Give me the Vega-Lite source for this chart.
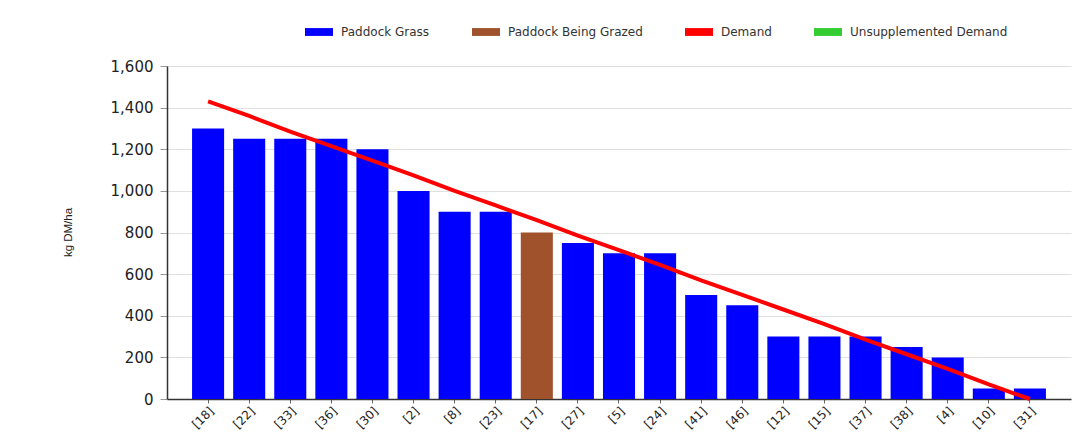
{
  "$schema": "https://vega.github.io/schema/vega-lite/v6.json",
  "width": 904,
  "height": 333,
  "autosize": {"type": "none"},
  "padding": {"left": 167, "top": 66, "right": 21, "bottom": 37},
  "background": "white",
  "config": {
    "font": "DejaVu Sans",
    "view": {"stroke": null},
    "axis": {"labelColor": "#222", "titleColor": "#222"}
  },
  "data": {
    "values": [
      {"paddock": "[18]", "grass": 1300, "type": "Paddock Grass", "demand": 1430},
      {"paddock": "[22]", "grass": 1250, "type": "Paddock Grass", "demand": 1360},
      {"paddock": "[33]", "grass": 1250, "type": "Paddock Grass", "demand": 1285},
      {"paddock": "[36]", "grass": 1250, "type": "Paddock Grass", "demand": 1215},
      {"paddock": "[30]", "grass": 1200, "type": "Paddock Grass", "demand": 1145},
      {"paddock": "[2]", "grass": 1000, "type": "Paddock Grass", "demand": 1075},
      {"paddock": "[8]", "grass": 900, "type": "Paddock Grass", "demand": 1000},
      {"paddock": "[23]", "grass": 900, "type": "Paddock Grass", "demand": 930},
      {"paddock": "[17]", "grass": 800, "type": "Paddock Being Grazed", "demand": 860},
      {"paddock": "[27]", "grass": 750, "type": "Paddock Grass", "demand": 785},
      {"paddock": "[5]", "grass": 700, "type": "Paddock Grass", "demand": 715},
      {"paddock": "[24]", "grass": 700, "type": "Paddock Grass", "demand": 645},
      {"paddock": "[41]", "grass": 500, "type": "Paddock Grass", "demand": 570},
      {"paddock": "[46]", "grass": 450, "type": "Paddock Grass", "demand": 500},
      {"paddock": "[12]", "grass": 300, "type": "Paddock Grass", "demand": 430},
      {"paddock": "[15]", "grass": 300, "type": "Paddock Grass", "demand": 360},
      {"paddock": "[37]", "grass": 300, "type": "Paddock Grass", "demand": 285},
      {"paddock": "[38]", "grass": 250, "type": "Paddock Grass", "demand": 215},
      {"paddock": "[4]", "grass": 200, "type": "Paddock Grass", "demand": 145},
      {"paddock": "[10]", "grass": 50, "type": "Paddock Grass", "demand": 70},
      {"paddock": "[31]", "grass": 50, "type": "Paddock Grass", "demand": 0}
    ]
  },
  "encoding": {
    "x": {
      "field": "paddock",
      "type": "nominal",
      "sort": null,
      "scale": {"paddingInner": 0.22, "paddingOuter": 0.61},
      "axis": {
        "title": null,
        "labelAngle": -45,
        "labelFontSize": 12,
        "labelFont": "DejaVu Sans",
        "domainColor": "#333",
        "domainWidth": 1.5,
        "tickColor": "#666",
        "tickSize": 4,
        "labelPadding": 2,
        "grid": false
      }
    }
  },
  "layer": [
    {
      "mark": {"type": "bar"},
      "encoding": {
        "y": {
          "field": "grass",
          "type": "quantitative",
          "scale": {"domain": [0, 1600]},
          "axis": {
            "title": "kg DM/ha",
            "titleFont": "Liberation Sans",
            "titleFontSize": 11.5,
            "titleFontWeight": "normal",
            "titleX": -99,
            "titleY": 166,
            "titleAngle": -90,
            "titleAlign": "center",
            "titleBaseline": "middle",
            "values": [0, 200, 400, 600, 800, 1000, 1200, 1400, 1600],
            "format": ",d",
            "labelFontSize": 15,
            "labelPadding": 7,
            "domainColor": "#333",
            "domainWidth": 1.5,
            "tickColor": "#999",
            "tickSize": 7,
            "gridColor": "#e0e0e0",
            "gridWidth": 1.2
          }
        },
        "color": {
          "field": "type",
          "type": "nominal",
          "scale": {
            "domain": ["Paddock Grass", "Paddock Being Grazed", "Demand", "Unsupplemented Demand"],
            "range": ["#0000ff", "#a0522d", "#ff0000", "#33cc33"]
          },
          "legend": {
            "title": null,
            "orient": "none",
            "legendX": 138,
            "legendY": -48,
            "direction": "horizontal",
            "columns": 4,
            "columnPadding": 42,
            "symbolType": "M-1,-0.28H1V0.28H-1Z",
            "symbolSize": 784,
            "symbolStrokeWidth": 0,
            "labelFontSize": 12,
            "labelColor": "#333",
            "labelOffset": 8,
            "labelFont": "DejaVu Sans"
          }
        }
      }
    },
    {
      "mark": {"type": "line", "color": "#ff0000", "strokeWidth": 4},
      "encoding": {
        "y": {"field": "demand", "type": "quantitative"}
      }
    }
  ]
}
